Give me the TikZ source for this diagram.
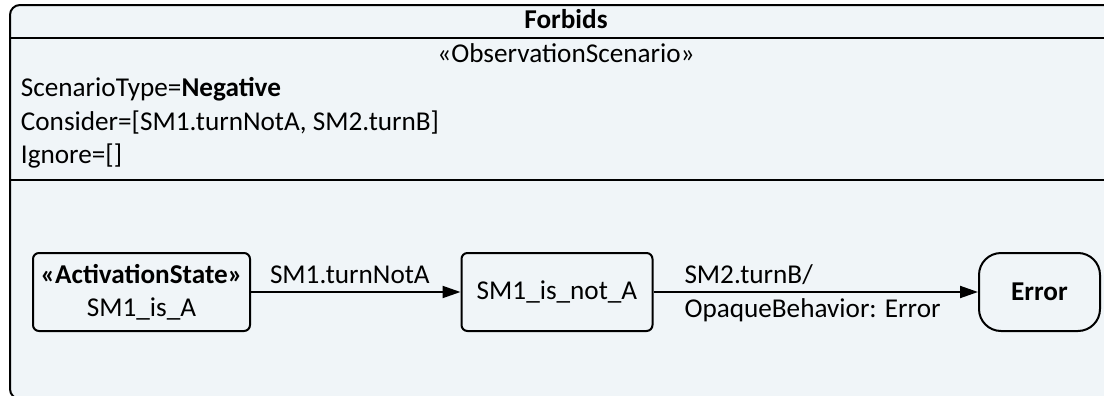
\documentclass[tikz,border=0pt]{standalone}
\usepackage{fontspec}
\setmainfont{Carlito}
\usepackage{tikz}
\usetikzlibrary{arrows.meta}
\definecolor{scenbg}{RGB}{240,245,248}
\newcommand\diafont{\fontsize{13.6}{16.5}\selectfont}

\tikzset{
   frame/.style={draw, line width=1pt, rounded corners=5pt, fill=scenbg},
   sepline/.style={line width=1pt},
   txt/.style={font=\diafont, inner sep=0pt},
   state/.style={
      draw,
      line width=1pt,
      rounded corners=3pt,
      fill=scenbg,
      minimum height=39pt,
      inner sep=0pt,
      align=center,
      font=\diafont
   },
   trans/.style={-{Triangle[length=9pt,width=6pt]}, line width=1pt}
}

\begin{document}
\begin{tikzpicture}[x=0.5pt, y=-0.5pt]
   \useasboundingbox (0,0) rectangle (1104,396);
   \clip (0,0) rectangle (1104,396);

   % scenario frame
   \draw[frame] (10,5) rectangle (1122,399);
   \draw[sepline] (10,37.5) -- (1122,37.5);
   \draw[sepline] (10,180) -- (1122,180);

   \node[txt, anchor=base] (title) at (566,28) {\textbf{Forbids}};
   \node[txt, anchor=base] (stereo) at (566,62.7) {«ObservationScenario»};

   \foreach \y/\t [count=\i] in {96.7/{ScenarioType=\textbf{Negative}},
                                 130/{Consider=[SM1.turnNotA, SM2.turnB]},
                                 163.5/{Ignore=[]}}
   \node[txt, anchor=base west] (attr\i) at (20.5,\y) {\t};

   % states
   \node[state, minimum width=108.5pt] (isA) at (141.5,292)
      {\textbf{«ActivationState»}\\SM1\_is\_A};
   \node[state, minimum width=95.5pt] (notA) at (557,292) {SM1\_is\_not\_A};
   \node[state, minimum width=60.5pt, rounded corners=11pt] (err) at (1039.5,292)
      {\textbf{Error}};

   % transitions
   \draw[trans] (isA) -- node[txt, pos=0, anchor=base west, xshift=9pt, yshift=4.5pt]
      (lblA) {SM1.turnNotA} (notA);
   \draw[trans] (notA) --
      node[txt, pos=0, anchor=base west, xshift=15pt, yshift=4.5pt] (lblB) {SM2.turnB/}
      node[txt, pos=0, anchor=base west, xshift=15pt, yshift=-12.5pt] (lblC) {OpaqueBehavior: Error}
      (err);

\end{tikzpicture}
\end{document}
